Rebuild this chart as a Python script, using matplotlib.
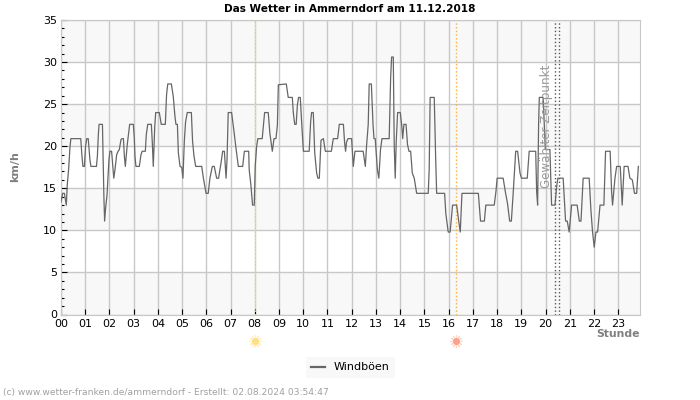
#!/usr/bin/python

#Importing modules:
import numpy as np
import matplotlib
matplotlib.use("Agg")
import matplotlib.pyplot as plt

#Values (hour, km/h):
hoursRead = [0.00, 0.07, 0.14, 0.22, 0.26, 0.32, 0.37, 0.41, 0.82, 0.87, 0.91, 0.97, 1.02, 1.07, 1.13, 1.20, 1.24, 1.47,
    1.51, 1.55, 1.58, 1.72, 1.74, 1.78, 1.81, 1.85, 1.91, 1.95, 1.99, 2.03, 2.10, 2.14, 2.19, 2.24, 2.31, 2.37, 2.42, 2.49,
    2.53, 2.59, 2.63, 2.67, 2.75, 2.81, 2.85, 3.00, 3.04, 3.07, 3.11, 3.25, 3.32, 3.37, 3.50, 3.54, 3.60, 3.75, 3.79, 3.83,
    3.89, 3.93, 4.08, 4.16, 4.33, 4.38, 4.43, 4.58, 4.66, 4.73, 4.77, 4.83, 4.87, 4.94, 5.01, 5.06, 5.12, 5.17, 5.24, 5.41,
    5.46, 5.52, 5.59, 5.84, 5.91, 6.02, 6.11, 6.18, 6.28, 6.36, 6.46, 6.54, 6.64, 6.71, 6.78, 6.85, 6.89, 6.94, 7.08, 7.19,
    7.26, 7.36, 7.54, 7.61, 7.79, 7.81, 7.88, 7.95, 8.02, 8.06, 8.12, 8.17, 8.35, 8.40, 8.45, 8.60, 8.67, 8.77, 8.84, 8.92,
    8.98, 9.02, 9.35, 9.43, 9.60, 9.64, 9.70, 9.76, 9.81, 9.86, 9.93, 9.99, 10.06, 10.30, 10.36, 10.40, 10.47, 10.53, 10.61,
    10.66, 10.72, 10.79, 10.89, 10.97, 11.22, 11.30, 11.48, 11.55, 11.72, 11.77, 11.81, 11.85, 11.91, 12.06, 12.13, 12.20,
    12.54, 12.63, 12.68, 12.75, 12.79, 12.88, 12.95, 12.99, 13.04, 13.13, 13.19, 13.26, 13.32, 13.62, 13.68, 13.72, 13.79,
    13.83, 13.87, 13.91, 13.97, 14.08, 14.14, 14.18, 14.23, 14.32, 14.38, 14.44, 14.51, 14.58, 14.66, 14.76, 15.24, 15.28,
    15.32, 15.49, 15.55, 15.59, 15.92, 15.97, 16.07, 16.15, 16.25, 16.42, 16.51, 16.57, 16.64, 17.32, 17.41, 17.57, 17.63,
    17.98, 18.05, 18.10, 18.35, 18.44, 18.53, 18.62, 18.69, 18.77, 18.87, 18.95, 19.05, 19.11, 19.35, 19.43, 19.70, 19.74,
    19.78, 19.82, 19.85, 20.01, 20.10, 20.29, 20.36, 20.50, 20.57, 20.62, 20.84, 20.94, 21.01, 21.09, 21.19, 21.42, 21.51,
    21.58, 21.67, 21.92, 21.99, 22.06, 22.13, 22.20, 22.27, 22.37, 22.53, 22.60, 22.79, 22.85, 22.89, 22.99, 23.06, 23.21,
    23.29, 23.37, 23.53, 23.61, 23.71, 23.80, 23.89, 23.96]
gusts = [13.4, 14.4, 14.4, 13.0, 15.4, 17.4, 19.8, 20.9, 20.9, 18.8, 17.6, 17.6, 20.0, 20.9, 20.9, 18.4, 17.6, 17.6,
    18.8, 21.4, 22.6, 22.6, 19.6, 14.0, 11.1, 12.6, 14.2, 16.4, 18.4, 19.4, 19.4, 18.0, 16.2, 17.2, 19.0, 19.4, 19.6, 20.8,
    20.9, 20.9, 18.8, 17.6, 20.2, 21.7, 22.6, 22.6, 21.1, 18.8, 17.6, 17.6, 19.0, 19.4, 19.4, 21.4, 22.6, 22.6, 20.4, 17.6,
    22.3, 24.0, 24.0, 22.6, 22.6, 26.1, 27.4, 27.4, 25.9, 23.5, 22.6, 22.6, 19.2, 17.6, 17.5, 16.2, 20.7, 22.9, 24.0, 24.0,
    20.6, 18.8, 17.6, 17.6, 16.2, 14.4, 14.4, 16.2, 17.6, 17.6, 16.2, 16.2, 18.0, 19.4, 19.4, 16.2, 18.4, 24.0, 24.0, 21.5,
    19.8, 17.6, 17.6, 19.4, 19.4, 17.2, 15.4, 13.0, 13.0, 17.6, 20.0, 20.9, 20.9, 22.5, 24.0, 24.0, 21.5, 19.4, 20.9, 20.9,
    22.5, 27.3, 27.4, 25.8, 25.8, 24.0, 22.6, 22.6, 24.9, 25.8, 25.8, 22.7, 19.4, 19.4, 22.9, 24.0, 24.0, 19.2, 16.8,
    16.2, 16.2, 20.7, 20.9, 19.4, 19.4, 20.9, 20.9, 22.6, 22.6, 20.4, 19.4, 20.5, 20.9, 20.9, 17.6, 19.4,
    19.4, 17.6, 20.0, 22.6, 27.4, 27.4, 22.5, 20.9, 20.9, 17.2, 16.2, 19.6, 20.9, 20.9, 28.1, 30.6, 30.6,
    20.0, 16.2, 20.4, 24.0, 24.0, 22.5, 20.9, 22.6, 22.6, 20.2, 19.4, 19.4, 16.8, 16.2, 14.4, 14.4, 17.2,
    25.8, 25.8, 18.4, 14.4, 14.4, 12.0, 9.8, 9.8, 13.0, 13.0, 11.0, 9.8, 14.4, 14.4, 11.1, 11.1, 13.0,
    13.0, 14.6, 16.2, 16.2, 14.6, 13.2, 11.1, 11.1, 14.6, 19.4, 19.4, 16.8, 16.2, 16.2, 19.4, 19.4, 14.6,
    13.0, 22.5, 25.8, 25.8, 19.6, 19.6, 13.0, 13.0, 15.2, 16.2, 16.2, 11.1, 11.1, 9.8, 13.0, 13.0, 11.1,
    11.1, 16.2, 16.2, 12.5, 9.8, 8.0, 9.8, 9.8, 13.0, 13.0, 19.4, 19.4, 14.6, 13.0, 16.2, 17.6, 17.6,
    13.0, 17.6, 17.6, 16.2, 16.0, 14.4, 14.4, 17.6]
hourLabels = ['%02d' % h for h in range(24)]
sunrise = 8.0
sunset = 16.32
selected = [20.4, 20.57]

#The hours above were measured with a ruler of 24.1 px per hour, the axis has 24.23:
hours = np.array(hoursRead) * 24.1 / 24.23

#Creating the figure:
fig = plt.figure(figsize=(7, 4), dpi=100)
ax = fig.add_axes([61 / 700, 1 - 314.5 / 400, 579 / 700, 294.5 / 400])

#Bands and grid:
for i in range(0, 35, 10):
    ax.axhspan(i, i + 5, color='#f8f8f8', lw=0, zorder=0)
ax.grid(True, color='#c8c8c8', lw=1)
ax.set_axisbelow(True)

#Plotting the gusts:
ax.plot(hours, gusts, color='#666666', lw=0.9, label='Windböen', zorder=3)

#Vertical markers:
ax.axvline(sunrise, color='#ffe84d', ls=':', lw=1, zorder=2)
ax.axvline(sunset, color='#ffb030', ls=':', lw=1, zorder=2)
for t in selected:
    ax.axvline(t, color='#555555', ls=':', lw=1, zorder=2)
ax.text(20.06, 22.4, 'Gewählter Zeitpunkt', rotation=90, color='#999999', fontsize=8.6,
        ha='center', va='center', zorder=4)

#Sun symbols below the axis:
trans = ax.get_xaxis_transform()
ax.plot([sunrise], [-0.09], marker=(12, 2, 0), ms=9, color='#fff0c0', mew=0.8, transform=trans, clip_on=False)
ax.plot([sunrise], [-0.09], marker='o', ms=5, color='#ffe080', mew=0, transform=trans, clip_on=False)
ax.plot([sunset], [-0.09], marker=(12, 2, 0), ms=9, color='#ffd8c8', mew=0.8, transform=trans, clip_on=False)
ax.plot([sunset], [-0.09], marker='o', ms=5, color='#ffa088', mew=0, transform=trans, clip_on=False)

#Axes:
ax.set_xlim(0, 23.9)
ax.set_ylim(0, 35)
ax.set_xticks(range(24))
ax.set_xticklabels(hourLabels)
ax.set_yticks(range(0, 36, 5))
ax.set_yticks(range(0, 36), minor=True)
ax.tick_params(axis='both', which='major', direction='in', length=4, width=0.8, labelsize=8, pad=3)
ax.tick_params(axis='y', which='minor', direction='in', length=2, width=0.8)
for s in ax.spines.values():
    s.set_color('#c8c8c8')

#Texts:
fig.text(349.5 / 700, 1 - 9 / 400, 'Das Wetter in Ammerndorf am 11.12.2018', fontsize=7.6, fontweight='bold',
         ha='center', va='center')
fig.text(15 / 700, 1 - 167 / 400, 'km/h', fontsize=8, fontweight='bold', color='#808080', rotation=90,
         ha='center', va='center')
fig.text(640 / 700, 1 - 334 / 400, 'Stunde', fontsize=7.8, fontweight='bold', color='#808080',
         ha='right', va='center')
fig.text(3 / 700, 1 - 393 / 400, '(c) www.wetter-franken.de/ammerndorf - Erstellt: 02.08.2024 03:54:47',
         fontsize=6.6, color='#a0a0a0', ha='left', va='center')

#Legend:
leg = ax.legend(loc='center', bbox_to_anchor=(350.5 / 700, 1 - 367.5 / 400), bbox_transform=fig.transFigure,
                fontsize=8, frameon=True, fancybox=False, handlelength=1.2, handletextpad=0.8,
                borderpad=0.5, facecolor='#f8f8f8', edgecolor='none', framealpha=1)
leg.get_lines()[0].set_linewidth(1.6)

plt.savefig('out.png', dpi=100)
